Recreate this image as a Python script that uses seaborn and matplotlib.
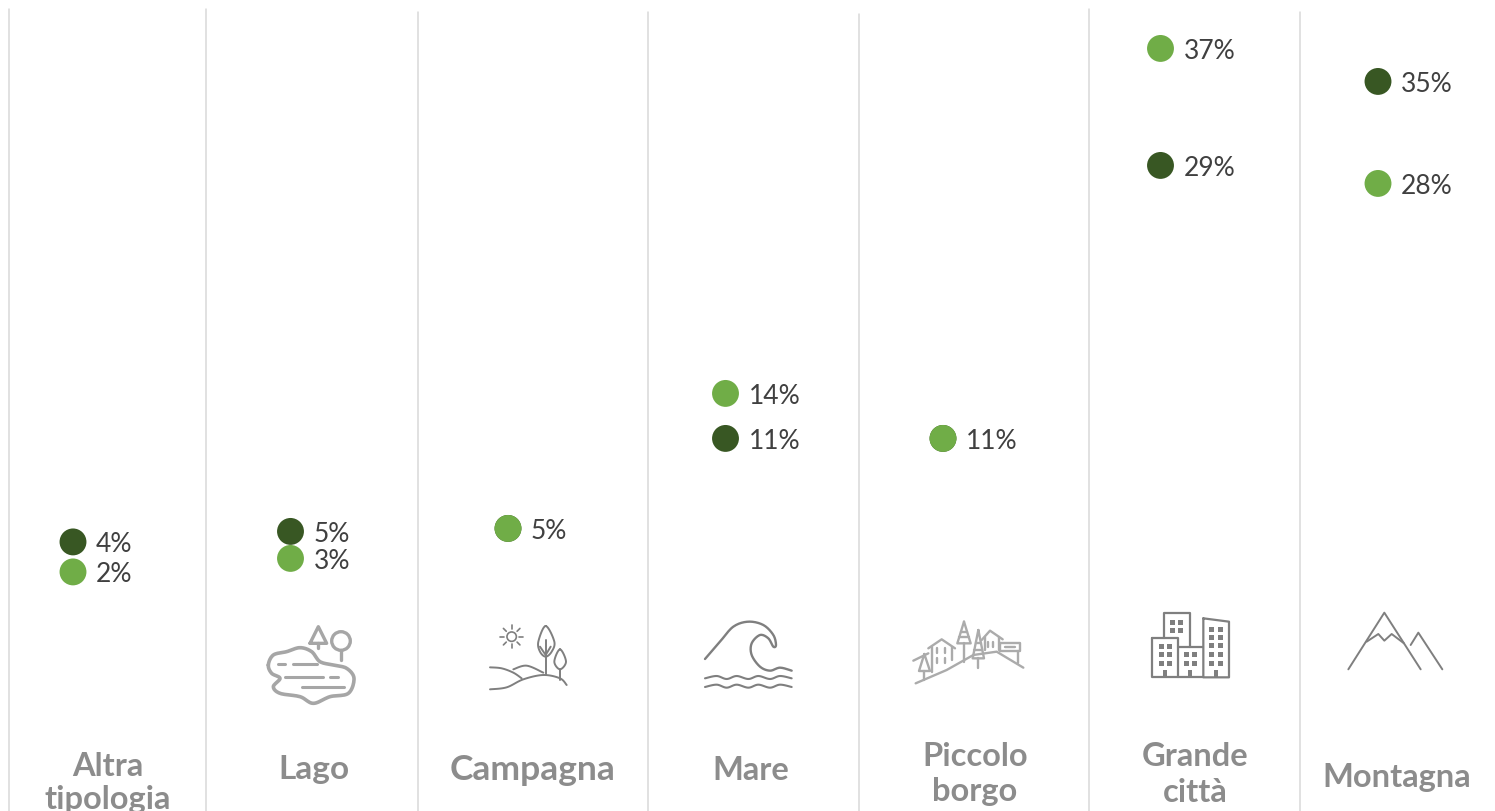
import numpy as np
import pandas as pd
import seaborn as sns
import matplotlib
matplotlib.use("Agg")
import matplotlib.pyplot as plt
from matplotlib.patches import Circle, Rectangle

categorie = ["Altra\ntipologia", "Lago", "Campagna", "Mare", "Piccolo\nborgo", "Grande\ncittà", "Montagna"]
scuro = [4.1, 4.8, 5.0, 11, 11, 29.2, 34.8]
chiaro = [2.1, 3.0, 5.0, 14, 11, 37, 28]
etichette_scuro = ["4%", "5%", "5%", "11%", "11%", "29%", "35%"]
etichette_chiaro = ["2%", "3%", "5%", "14%", "11%", "37%", "28%"]

VERDE_SCURO = "#385723"
VERDE = "#70ad47"
GRIGIO = "#7f7f7f"

sns.set_theme(style="white")
plt.rcParams["font.family"] = ["Lato", "DejaVu Sans"]

df = pd.DataFrame({
    "categoria": list(range(7)) * 2,
    "valore": scuro + chiaro,
    "serie": ["scuro"] * 7 + ["chiaro"] * 7,
})

fig = plt.figure(figsize=(14.95, 8.11), dpi=100)
ax = fig.add_axes([0, 0, 1, 1])
sns.scatterplot(data=df, x="categoria", y="valore", hue="serie",
                palette={"scuro": VERDE_SCURO, "chiaro": VERDE},
                s=375, linewidth=0, legend=False, ax=ax, zorder=3)
ax.set_xlim(-73 / 217.5, (1495 - 73) / 217.5)
ax.set_ylim(-13.84, 40.23)
ax.axis("off")

for i in range(7):
    if scuro[i] != chiaro[i]:
        ax.annotate(etichette_scuro[i], (i, scuro[i]), xytext=(16.5, -2), textcoords="offset points",
                    va="center", ha="left", fontsize=19, color="#404040")
    ax.annotate(etichette_chiaro[i], (i, chiaro[i]), xytext=(16.5, -2), textcoords="offset points",
                va="center", ha="left", fontsize=19, color="#404040")

# second axes in pixels for the separators, the icons and the names
px = fig.add_axes([0, 0, 1, 1], facecolor="none")
px.set_xlim(0, 1495)
px.set_ylim(811, 0)
px.axis("off")

sep_x = [9, 206, 417.5, 647.5, 858.5, 1089, 1300]
sep_top = [9, 9, 12, 12, 14, 9, 12]
for x, t in zip(sep_x, sep_top):
    px.plot([x, x], [t, 811], color="#d9d9d9", lw=1.1)

nomi_x = [108, 314, 533, 751, 975, 1195, 1397]
nomi_y = [[766, 799], [769], [770], [771], [757, 792], [757, 792], [777]]
nomi_size = [23.5, 24, 25.5, 23.5, 23.5, 23.5, 23.5]
for nome, x, ys, fs in zip(categorie, nomi_x, nomi_y, nomi_size):
    for riga, y in zip(nome.split("\n"), ys):
        px.text(x, y, riga, ha="center", va="center", fontsize=fs, fontweight="bold",
                color="#8c8c8c", clip_on=True)


def smooth(pts, closed=False):
    # catmull-rom, only to round off the icon outlines
    p = np.array(pts, dtype=float)
    if closed:
        p = np.vstack([p[-1], p, p[0], p[1]])
    else:
        p = np.vstack([p[0], p, p[-1]])
    out = []
    t = np.linspace(0, 1, 12)[:, None]
    for i in range(1, len(p) - 2):
        a, b, c, d = p[i - 1], p[i], p[i + 1], p[i + 2]
        out.append(0.5 * (2 * b + (c - a) * t + (2 * a - 5 * b + 4 * c - d) * t ** 2
                          + (3 * b - a - 3 * c + d) * t ** 3))
    return np.vstack(out)


def linea(pts, ox, oy, col=GRIGIO, lw=1.4, curva=False, chiusa=False):
    q = smooth(pts, chiusa) if curva else np.array(pts + pts[:1] if chiusa else pts, dtype=float)
    px.plot(ox + q[:, 0] / 3, oy + q[:, 1] / 3, color=col, lw=lw, solid_capstyle="round")


# lago
col = "#a6a6a6"
linea([(115, 195), (130, 165), (170, 155), (210, 143), (245, 155), (270, 185), (310, 195), (350, 205),
       (372, 235), (355, 280), (300, 290), (250, 310), (210, 290), (150, 280), (130, 260), (150, 235),
       (125, 220)], 230, 600, col, 2.6, True, True)
linea([(240, 130), (265, 80), (290, 130)], 230, 600, col, 2.4, chiusa=True)
linea([(265, 130), (265, 145)], 230, 600, col, 2.4)
px.add_patch(Circle((230 + 333 / 3, 600 + 123 / 3), 9.3, fill=False, ec=col, lw=2.4))
linea([(333, 150), (333, 180)], 230, 600, col, 2.4)
for a, b, y in [(145, 165, 193), (190, 262, 193), (165, 278, 230), (300, 325, 230), (215, 342, 262)]:
    linea([(a, y), (b, y)], 230, 600, col, 2.2)

# campagna
px.add_patch(Circle((230 + 845 / 3, 600 + 110 / 3), 4.7, fill=False, ec=GRIGIO, lw=1.2))
for ang in np.arange(0, 360, 45):
    c, s = np.cos(np.radians(ang)), np.sin(np.radians(ang))
    linea([(845 + 23 * c, 110 + 23 * s), (845 + 35 * c, 110 + 35 * s)], 230, 600, lw=1.2)
linea([(947, 78), (925, 125), (930, 155), (947, 170), (965, 155), (973, 125)], 230, 600, curva=True, chiusa=True)
linea([(947, 120), (947, 225)], 230, 600)
linea([(930, 140), (947, 165), (962, 140)], 230, 600)
linea([(990, 148), (973, 185), (990, 208), (1008, 185)], 230, 600, curva=True, chiusa=True)
linea([(990, 208), (990, 240)], 230, 600)
linea([(780, 202), (815, 205), (850, 218), (875, 235)], 230, 600, curva=True)
linea([(850, 208), (890, 197), (940, 218)], 230, 600, curva=True)
linea([(780, 268), (830, 262), (880, 238), (940, 225), (990, 235), (1010, 255)], 230, 600, curva=True)

# mare
linea([(75, 177), (120, 125), (160, 80), (205, 65), (250, 75), (280, 105), (288, 135), (280, 140),
       (265, 115), (240, 105), (215, 130), (215, 165), (240, 200), (270, 212), (300, 203), (335, 212)],
      680, 600, lw=1.7, curva=True)
onda = [(75, 235), (110, 228), (140, 237), (170, 228), (205, 237), (235, 228), (270, 237), (300, 228), (335, 235)]
linea(onda, 680, 600, lw=1.5, curva=True)
linea([(a, b + 26) for a, b in onda], 680, 600, lw=1.5, curva=True)

# piccolo borgo
col = "#ababab"
for pts, chiusa in [([(707, 250), (800, 210), (880, 165), (950, 155), (1030, 203)], False),
                    ([(745, 145), (785, 118), (825, 145)], False),
                    ([(757, 140), (757, 215)], False), ([(815, 140), (815, 180)], False),
                    ([(852, 65), (832, 130), (872, 130)], True), ([(852, 130), (852, 185)], False),
                    ([(838, 110), (866, 110)], False), ([(842, 95), (862, 95)], False),
                    ([(895, 90), (878, 175), (912, 175)], True), ([(895, 175), (895, 205)], False),
                    ([(883, 150), (907, 150)], False), ([(887, 130), (903, 130)], False),
                    ([(905, 120), (930, 92), (968, 118)], False),
                    ([(915, 110), (915, 150)], False), ([(958, 110), (958, 150)], False),
                    ([(960, 130), (1020, 130), (1020, 152), (960, 152)], True),
                    ([(975, 141), (1005, 141)], False),
                    ([(1015, 152), (1015, 190)], False),
                    ([(733, 162), (717, 213), (750, 213)], True), ([(733, 213), (733, 240)], False),
                    ([(700, 182), (745, 160)], False),
                    ([(772, 145), (772, 160)], False), ([(795, 145), (795, 160)], False),
                    ([(772, 175), (772, 190)], False), ([(795, 175), (795, 190)], False),
                    ([(925, 125), (925, 140)], False), ([(940, 125), (940, 140)], False)]:
    linea(pts, 680, 600, col, 1.7, chiusa=chiusa)

# grande città
ox, oy = 1130, 600
linea([(102, 113), (102, 40), (180, 40), (180, 140)], ox, oy, lw=1.6)
linea([(67, 113), (145, 113), (145, 232), (67, 232)], ox, oy, lw=1.6, chiusa=True)
linea([(145, 140), (220, 140)], ox, oy, lw=1.6)
linea([(220, 55), (297, 65), (297, 232), (220, 232)], ox, oy, lw=1.6, chiusa=True)
linea([(145, 232), (220, 232)], ox, oy, lw=1.6)
finestre = [(x, y) for x in (120, 145) for y in (60, 83)]
finestre += [(x, y) for x in (87, 112) for y in (132, 155, 182)]
finestre += [(x, y) for x in (162, 185) for y in (155, 182)]
finestre += [(x, y) for x in (237, 263) for y in (80, 105, 130, 155, 182)]
for x, y in finestre:
    px.add_patch(Rectangle((ox + x / 3, oy + y / 3), 5, 5, color=GRIGIO, lw=0))
for x in (100, 175, 252):
    px.add_patch(Rectangle((ox + x / 3, oy + 210 / 3), 4, 7.5, color=GRIGIO, lw=0))

# montagna
linea([(655, 208), (763, 38), (872, 208)], ox, oy)
linea([(710, 125), (745, 102), (763, 122), (785, 102), (822, 130)], ox, oy)
linea([(842, 135), (865, 98), (937, 208)], ox, oy)

fig.savefig("out.png", dpi=100)
